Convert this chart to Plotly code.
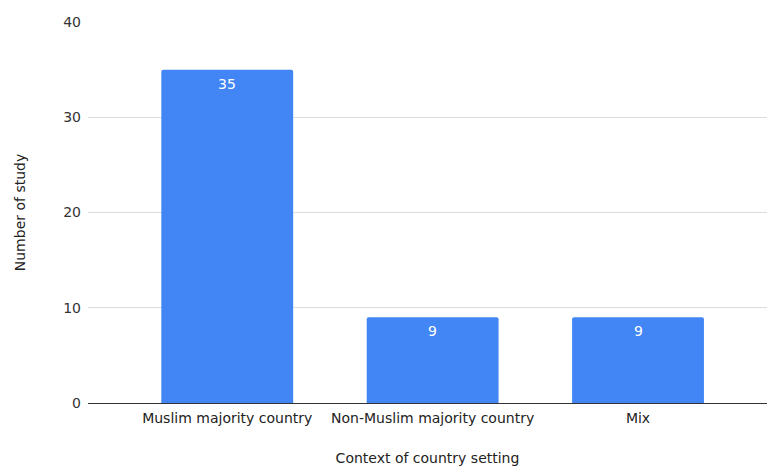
import plotly.graph_objects as go

categories = ["Muslim majority country", "Non-Muslim majority country", "Mix"]
study_counts = [35, 9, 9]
y_ticks = [0, 10, 20, 30, 40]

FONT = "DejaVu Sans"
BAR_BLUE = "#4285F4"
FS = 14

fig = go.Figure(
    go.Bar(
        x=categories,
        y=study_counts,
        marker=dict(color=BAR_BLUE, cornerradius=2, line=dict(width=0)),
        width=0.642,
        hoverinfo="x+y",
    )
)

# value labels just inside the top of each bar
for cat, val in zip(categories, study_counts):
    fig.add_annotation(
        x=cat, y=val, text=str(val), showarrow=False,
        yanchor="middle", yshift=-14,
        font=dict(family=FONT, size=FS, color="white"),
    )

fig.update_layout(
    width=767,
    height=468,
    margin=dict(l=88, r=0, t=22, b=65),
    paper_bgcolor="white",
    plot_bgcolor="white",
    showlegend=False,
    font=dict(family=FONT, size=FS, color="#222"),
    xaxis=dict(
        range=[-0.678, 2.628],
        showgrid=False,
        showline=True,
        linecolor="#333",
        linewidth=1.3,
        ticks="",
        ticklabelstandoff=2,
        tickfont=dict(family=FONT, size=FS, color="#222"),
        title=dict(text="Context of country setting",
                   font=dict(family=FONT, size=FS, color="#222"),
                   standoff=28),
    ),
    yaxis=dict(
        range=[0, 40],
        tickvals=y_ticks,
        showgrid=True,
        gridcolor="#dcdcdc",
        gridwidth=1,
        zeroline=False,
        showline=False,
        ticks="",
        ticklabelstandoff=6,
        tickfont=dict(family=FONT, size=FS, color="#333"),
        title=dict(text="Number of study",
                   font=dict(family=FONT, size=FS, color="#222"),
                   standoff=34),
    ),
)

fig.write_html("out.html")
